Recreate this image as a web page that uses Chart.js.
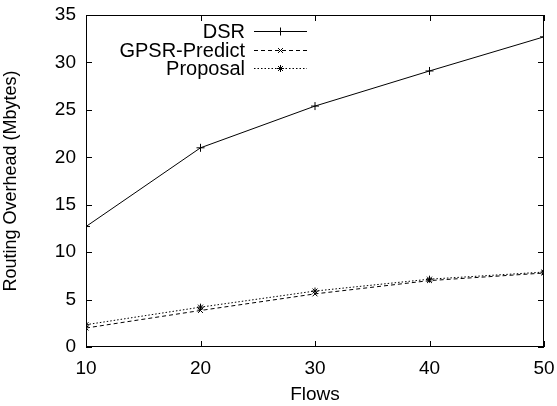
<!DOCTYPE html>
<html><head><meta charset="utf-8">
<script src="https://cdn.jsdelivr.net/npm/chart.js@4/dist/chart.umd.min.js"></script>
<style>html,body{margin:0;padding:0;background:#fff}#wrap{width:557px;height:406px}</style>
</head><body><div id="wrap"><canvas id="c" width="557" height="406"></canvas></div>
<script>
const flows = [10, 20, 30, 40, 50];
const dsr = [12.7, 21.0, 25.4, 29.1, 32.7];
const gpsrPredict = [2.0, 3.85, 5.6, 7.0, 7.8];
const proposal = [2.35, 4.2, 5.9, 7.15, 7.9];
const xTicks = [10, 20, 30, 40, 50];
const yTicks = [0, 5, 10, 15, 20, 25, 30, 35];
const seriesNames = ['DSR', 'GPSR-Predict', 'Proposal'];

const FONT = 'Liberation Sans, Arial, sans-serif';
const FS = 19;
const pts = (ys) => flows.map((x, i) => ({x: x, y: ys[i]}));

const ticksPlugin = {
  id: 'gpTicks',
  afterDraw(chart) {
    const ctx = chart.ctx, a = chart.chartArea;
    const xs = chart.scales.x, ys = chart.scales.y;
    ctx.save();
    ctx.strokeStyle = '#000'; ctx.lineWidth = 1; ctx.setLineDash([]);
    ctx.strokeRect(a.left + 0.5, a.top + 0.5, a.right - a.left - 1, a.bottom - a.top - 1);
    const L = 6;
    xTicks.forEach(v => {
      const px = Math.round(xs.getPixelForValue(v)) + 0.5;
      ctx.beginPath(); ctx.moveTo(px, a.bottom); ctx.lineTo(px, a.bottom - L);
      ctx.moveTo(px, a.top); ctx.lineTo(px, a.top + L); ctx.stroke();
    });
    yTicks.forEach(v => {
      const py = Math.round(ys.getPixelForValue(v)) + 0.5;
      ctx.beginPath(); ctx.moveTo(a.left, py); ctx.lineTo(a.left + L, py);
      ctx.moveTo(a.right, py); ctx.lineTo(a.right - L, py); ctx.stroke();
    });
    // legend
    const dsets = chart.data.datasets;
    ctx.font = '20px ' + FONT; ctx.fillStyle = '#000';
    ctx.textAlign = 'right'; ctx.textBaseline = 'middle';
    const rows = [31, 50, 68];
    dsets.forEach((d, i) => {
      const y = rows[i];
      ctx.fillText(d.label, 245, y + 1);
      ctx.setLineDash(d.borderDash || []);
      ctx.beginPath(); ctx.moveTo(254, y + 0.5); ctx.lineTo(307, y + 0.5); ctx.stroke();
      ctx.setLineDash([]);
      Chart.helpers.drawPoint(ctx, {pointStyle: d.pointStyle, radius: d.pointRadius, borderWidth: 1}, 280.5, y + 0.5);
    });
    ctx.restore();
  }
};

new Chart(document.getElementById('c'), {
  type: 'line',
  data: {
    datasets: [
      {label: seriesNames[0], data: pts(dsr), borderColor: '#000', backgroundColor: '#000', borderWidth: 1, pointStyle: 'cross', pointRadius: 4, pointBorderWidth: 1},
      {label: seriesNames[1], data: pts(gpsrPredict), borderColor: '#000', backgroundColor: '#000', borderWidth: 1, borderDash: [4, 3], pointStyle: 'crossRot', pointRadius: 3.5, pointBorderWidth: 1},
      {label: seriesNames[2], data: pts(proposal), borderColor: '#000', backgroundColor: '#000', borderWidth: 1, borderDash: [1.5, 2], pointStyle: 'star', pointRadius: 3.5, pointBorderWidth: 1}
    ]
  },
  options: {
    responsive: false, animation: false,
    layout: {autoPadding: false, padding: {left: 0, right: 13, top: 15, bottom: 0}},
    plugins: {legend: {display: false}, tooltip: {enabled: false}},
    elements: {line: {tension: 0}},
    scales: {
      x: {
        type: 'linear', min: 10, max: 50,
        afterBuildTicks: s => { s.ticks = xTicks.map(v => ({value: v})); },
        grid: {display: false, drawTicks: false},
        border: {display: false},
        ticks: {color: '#000', font: {family: FONT, size: FS}, padding: 10},
        title: {display: true, text: 'Flows', color: '#000', font: {family: FONT, size: FS}, padding: {top: 4, bottom: 0}},
        afterFit: s => { s.height = 406 - 347; s.paddingLeft = 0; s.paddingRight = 0; }
      },
      y: {
        min: 0, max: 35,
        afterBuildTicks: s => { s.ticks = yTicks.map(v => ({value: v})); },
        grid: {display: false, drawTicks: false},
        border: {display: false},
        ticks: {color: '#000', font: {family: FONT, size: FS}, padding: 10},
        title: {display: true, text: 'Routing Overhead (Mbytes)', color: '#000', font: {family: FONT, size: 18}, padding: {top: 0, bottom: 0}},
        afterFit: s => { s.width = 86; s.paddingTop = 0; s.paddingBottom = 0; }
      }
    }
  },
  plugins: [ticksPlugin]
});
</script></body></html>
